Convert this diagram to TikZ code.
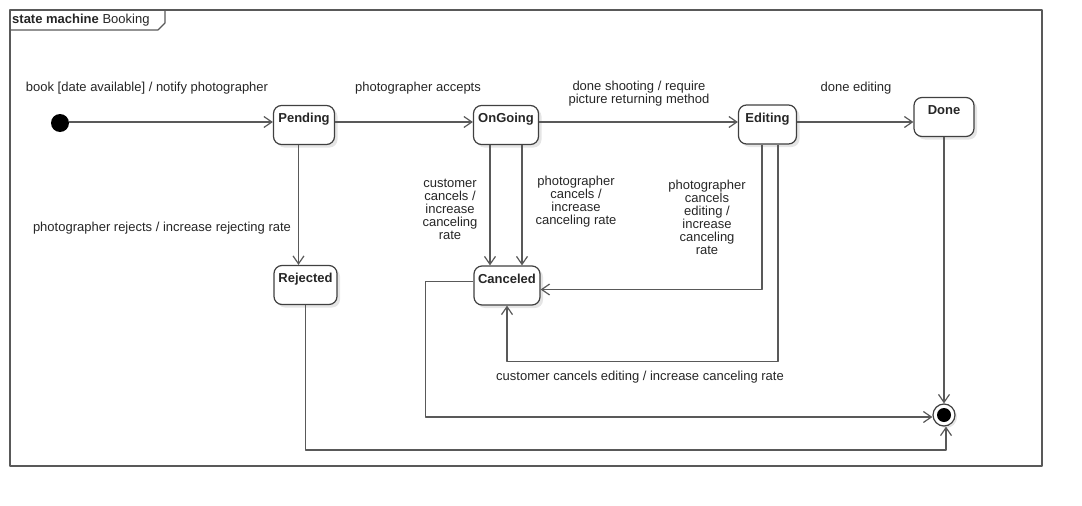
\documentclass[tikz,border=0pt]{standalone}
\usepackage{fontspec}
\setmainfont{Liberation Sans}
\usetikzlibrary{arrows.meta,shadows}

\begin{document}
\begin{tikzpicture}[x=1pt, y=-1pt, line join = round,
	>={Straight Barb[length=8pt,width=11pt]},
	every node/.style={font=\fontsize{13}{13}\selectfont, text=black!85},
	state/.style={draw=black!75, line width=1.2pt, fill=white, rounded corners=8pt,
		minimum width=#1, minimum height=39pt, inner sep=0pt,
		font=\fontsize{13}{13}\selectfont\bfseries, text height=9pt, text depth=13.5pt,
		drop shadow={shadow xshift=3pt, shadow yshift=-3pt, opacity=.1, fill=black}},
	state/.default=60pt,
	trans/.style={draw=black!65, line width=1.2pt, ->},
	lbl/.style={align=center, inner sep=0pt}]
		\useasboundingbox (0,0) rectangle (1082,506);
		
		% frame
		\draw[draw=black!65, line width=1.2pt] (10,10) rectangle (1042,466);
		\draw[draw=black!65, line width=1.2pt] (10,30) -- (158,30) -- (165,23) -- (165,10);
		\node[anchor=west, inner sep=0pt] (title) at (12,20.5) {\textbf{state machine} Booking};
		
		% states
		\node[circle, fill=black, inner sep=0pt, minimum size=18pt] (init) at (60,123) {};
		\node[state=61pt] (pend) at (304,125) {Pending};
		\node[state=65pt] (ongo) at (506,125) {OnGoing};
		\node[state=58pt] (edit) at (767.5,124.5) {Editing};
		\node[state=60pt] (done) at (944,117) {Done};
		\node[state=63pt] (rej) at (305.5,285) {Rejected};
		\node[state=66pt] (canc) at (507,285.5) {Canceled};
		\node[circle, draw=black!75, line width=1.2pt, fill=white, minimum size=22pt, inner sep=0pt,
			drop shadow={shadow xshift=2pt, shadow yshift=-2pt, opacity=.1, fill=black}] (fin) at (944,415) {};
		\fill[black] (fin) circle (7);
		
		\coordinate (row) at (0,122);
		\coordinate (lp) at (0,361.5);
		\coordinate (bot) at (0,450);
		
		% transitions
		\draw[trans] (init.east |- row) -- (pend.west |- row);
		\draw[trans] (pend.east |- row) -- (ongo.west |- row);
		\draw[trans] (ongo.east |- row) -- (edit.west |- row);
		\draw[trans] (edit.east |- row) -- (done.west |- row);
		\draw[trans] ([xshift=-5.5pt]pend.south) -- ([xshift=-5.5pt]pend.south |- rej.north);
		\draw[trans] ([xshift=-16pt]ongo.south) -- ([xshift=-16pt]ongo.south |- canc.north);
		\draw[trans] ([xshift=16pt]ongo.south) -- ([xshift=16pt]ongo.south |- canc.north);
		\draw[trans] ([xshift=-5.5pt]edit.south) |- ([yshift=-4pt]canc.east);
		\draw[trans] ([xshift=10.5pt]edit.south) |- (lp -| canc.south) -- (canc.south);
		\draw[trans] ([yshift=4pt]canc.west) -- ++(-48,0) |- ([yshift=-2pt]fin.west);
		\draw[trans] (rej.south) -- (rej.south |- bot) -| ([xshift=2pt]fin.south);
		\draw[trans] (done.south) -- (fin.north);
		
		% labels
		\node[lbl] (lbook) at (147,88.5) {book [date available] / notify photographer};
		\node[lbl] (lacc) at (418,88.5) {photographer accepts};
		\node[lbl] (lshoot) at (639,94) {done shooting / require\\picture returning method};
		\node[lbl] (ldone) at (856,88.5) {done editing};
		\node[lbl] (lrej) at (162,228.5) {photographer rejects / increase rejecting rate};
		\node[lbl] (lcust) at (450,209) {customer\\cancels /\\increase\\canceling\\rate};
		\node[lbl] (lphot) at (576,202) {photographer\\cancels /\\increase\\canceling rate};
		\node[lbl] (lphed) at (707,217) {photographer\\cancels\\editing /\\increase\\canceling\\rate};
		\node[lbl] (lcued) at (640,377.5) {customer cancels editing / increase canceling rate};
		
\end{tikzpicture}
\end{document}
